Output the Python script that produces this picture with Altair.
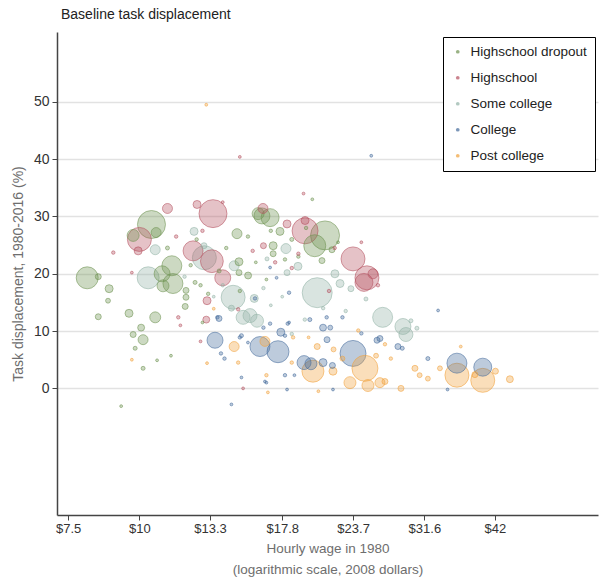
import altair as alt
import pandas as pd

# ---- data (hourly wage 1980 in 2008 $, task displacement %, employment share) ----
groups = ["Highschool dropout", "Highschool", "Some college", "College", "Post college"]
colors = ["#6d9150", "#b5505f", "#92b2a6", "#43699a", "#f0a13a"]

hsd_wage = [8.1, 10.5, 9.75, 10.7, 11.4, 11.45, 10.96, 11.0, 16.4, 16.95, 16.15, 21.16, 20.3,
            14.83, 17.16, 17.16, 17.64, 14.95, 14.95, 15.51, 20.9, 21.76,
            8.47, 8.85, 8.81, 8.47, 9.59, 10.66, 10.07, 9.75, 10.15, 9.83, 10.74, 11.36, 10.15, 9.29,
            12.07, 12.07, 12.03, 12.52, 11.2, 18.5, 19.0, 17.0, 15.5, 14.2, 13.8, 12.8, 12.3, 20.1, 16.0,
            12.6, 13.2, 18.0, 19.6, 22.3, 15.0, 16.7, 12.9]
hsd_task = [19.3, 28.6, 26.7, 27.2, 21.4, 18.3, 20.0, 17.9, 30.1, 29.8, 30.5, 26.7, 24.9,
            27.0, 24.9, 23.5, 27.4, 22.1, 20.2, 19.7, 22.3, 24.2,
            19.5, 17.4, 15.3, 12.5, 13.1, 12.4, 10.6, 9.4, 8.5, 7.0, 4.9, 5.7, 3.5, -3.1,
            17.1, 15.9, 14.3, 18.5, 24.5, 26.0, 23.0, 27.5, 26.5, 24.5, 20.5, 18.0, 21.5, 33.0, 22.0,
            26.0, 16.5, 22.5, 28.0, 25.5, 17.0, 19.0, 11.5]
hsd_share = [1.21, 1.96, 0.36, 0.25, 1.0, 1.0, 0.64, 0.36, 0.64, 0.81, 0.36, 2.1, 1.21,
             0.25, 0.16, 0.09, 0.16, 0.16, 0.09, 0.12, 0.09, 0.09,
             0.09, 0.16, 0.06, 0.09, 0.16, 0.3, 0.12, 0.09, 0.25, 0.04, 0.02, 0.02, 0.04, 0.02,
             0.09, 0.09, 0.09, 0.04, 0.04, 0.04, 0.03, 0.03, 0.03, 0.03, 0.04, 0.03, 0.03, 0.02, 0.02,
             0.03, 0.03, 0.03, 0.03, 0.02, 0.03, 0.02, 0.02]

hs_wage = [13.46, 10.0, 9.95, 12.42, 13.4, 14.0, 19.52, 19.52, 18.15, 16.47, 23.69, 25.06, 24.76,
           25.68, 11.2, 12.62, 9.0, 9.7, 13.14, 16.5, 15.0, 19.4, 14.0, 11.6, 12.9, 15.8, 17.3,
           18.5, 21.5, 22.0, 19.0, 24.5, 26.2, 13.1, 11.8, 15.2, 14.9, 11.7, 12.8]
hs_task = [30.5, 26.0, 24.0, 24.0, 22.2, 19.3, 27.5, 29.3, 28.7, 31.4, 22.6, 19.3, 18.5,
           20.0, 31.4, 32.1, 23.7, 20.2, 15.3, 24.9, 40.4, 34.0, 32.5, 26.5, 27.5, 24.0, 22.0,
           21.0, 17.0, 24.5, 23.5, 25.5, 18.0, 12.0, 11.0, 0.0, 13.8, 12.4, 8.2]
hs_share = [1.96, 1.44, 0.16, 1.0, 1.3, 0.64, 1.69, 0.16, 0.16, 0.25, 1.44, 1.44, 0.81,
            0.25, 0.25, 0.16, 0.03, 0.02, 0.16, 0.09, 0.02, 0.02, 0.02, 0.03, 0.03, 0.03, 0.03,
            0.03, 0.03, 0.03, 0.03, 0.02, 0.03, 0.12, 0.02, 0.02, 0.03, 0.03, 0.02]

sc_wage = [10.36, 13.0, 14.6, 15.2, 15.63, 16.08, 20.5, 26.7, 28.98, 29.33, 22.48, 23.49, 24.96,
           29.93, 30.66, 18.07, 18.97, 22.02, 18.15, 16.74, 14.66, 12.98, 10.66, 12.47, 15.9, 14.5,
           12.0, 16.5, 17.0, 19.5, 21.0, 23.0, 13.5, 14.0, 17.8, 18.5]
sc_task = [19.3, 22.8, 15.9, 12.4, 12.7, 11.8, 16.7, 12.4, 10.8, 9.4, 18.3, 17.4, 15.6,
           11.8, 10.5, 24.4, 21.3, 20.0, 20.2, 22.6, 21.4, 24.9, 24.2, 27.4, 15.7, 14.0,
           19.5, 17.5, 14.5, 12.0, 14.0, 13.5, 16.0, 18.0, 16.0, 9.5]
sc_share = [1.21, 1.44, 1.44, 0.49, 0.49, 0.42, 2.25, 1.0, 0.64, 0.49, 0.16, 0.09, 0.04,
            0.04, 0.04, 0.25, 0.16, 0.16, 0.09, 0.04, 0.25, 0.09, 0.25, 0.16, 0.16, 0.09,
            0.03, 0.03, 0.02, 0.03, 0.03, 0.03, 0.02, 0.03, 0.02, 0.03]

col_wage = [13.57, 16.27, 17.5, 17.7, 19.44, 19.99, 23.69, 36.04, 40.0, 20.99, 21.33, 20.99, 21.61,
            13.79, 21.8, 26.41, 26.1, 28.4, 28.9, 32.05, 33.4, 25.5,
            15.5, 15.1, 16.5, 16.95, 18.2, 19.9, 21.3, 22.7, 13.9, 14.1, 15.1, 16.6, 18.0, 18.7,
            18.15, 14.5, 21.85, 13.7, 15.95, 15.0, 16.95, 17.4, 18.3, 18.3, 18.0, 16.7, 24.5, 34.7]
col_task = [8.4, 7.3, 6.4, 9.8, 4.5, 4.3, 6.1, 4.4, 3.7, 4.5, 8.5, 10.6, 10.6,
            12.2, 4.0, 8.7, 8.4, 7.3, 7.0, 5.2, 13.6, 40.6,
            8.0, 9.2, 10.6, 11.3, 11.3, 12.0, 12.4, 12.4, 6.1, 5.2, 1.9, 1.2, 2.3, 2.3,
            -0.2, -2.8, -0.2, 12.4, 15.7, 8.9, 21.1, 19.3, 16.7, 11.5, 9.2, 1.0, 9.6, -0.2]
col_share = [0.64, 1.0, 1.21, 0.16, 0.49, 0.36, 1.69, 1.0, 0.81, 0.16, 0.09, 0.12, 0.06,
             0.09, 0.09, 0.09, 0.09, 0.09, 0.04, 0.04, 0.02, 0.02,
             0.02, 0.04, 0.03, 0.03, 0.03, 0.04, 0.03, 0.03, 0.03, 0.03, 0.02, 0.02, 0.03, 0.02,
             0.02, 0.02, 0.02, 0.03, 0.03, 0.03, 0.02, 0.02, 0.03, 0.02, 0.03, 0.02, 0.03, 0.02]

pc_wage = [20.15, 24.86, 23.4, 25.16, 26.41, 26.95, 28.75, 36.04, 40.0, 44.63, 16.6, 14.66, 21.85,
           30.42, 31.0, 32.05, 33.65, 38.75, 42.1, 36.6, 26.95, 27.6,
           13.14, 14.9, 18.5, 16.7, 16.8, 20.6, 18.6, 19.8, 20.5, 21.9, 9.7, 13.5, 24.2, 22.7, 26.0, 13.1]
pc_task = [3.0, 3.5, 1.0, 0.5, 1.0, 1.2, 0.0, 2.3, 1.4, 1.6, 8.2, 7.3, 3.0,
           3.5, 2.3, 1.7, 3.5, 2.4, 3.0, 7.3, 7.7, 5.2,
           4.4, 4.5, 4.5, 2.3, -0.7, -0.5, 8.9, 8.9, 7.3, 6.8, 5.0, 13.9, 10.1, 5.2, 5.7, 49.5]
pc_share = [1.21, 1.69, 0.36, 0.36, 0.25, 0.09, 0.09, 1.44, 1.44, 0.12, 0.25, 0.25, 0.16,
            0.09, 0.06, 0.06, 0.06, 0.09, 0.09, 0.02, 0.03, 0.03,
            0.02, 0.03, 0.03, 0.03, 0.02, 0.02, 0.03, 0.02, 0.09, 0.06, 0.02, 0.02, 0.03, 0.06, 0.06, 0.02]

x_ticks = [7.5, 10, 13.3, 17.8, 23.7, 31.6, 42]
y_ticks = [0, 10, 20, 30, 40, 50]

rows = []
for g, w, t, s in zip(groups,
                      [hsd_wage, hs_wage, sc_wage, col_wage, pc_wage],
                      [hsd_task, hs_task, sc_task, col_task, pc_task],
                      [hsd_share, hs_share, sc_share, col_share, pc_share]):
    for a, b, c in zip(w, t, s):
        rows.append({"group": g, "wage": a, "task": b, "share": c})
df = pd.DataFrame(rows)

FONT = "Liberation Sans"

color_scale = alt.Scale(domain=groups, range=colors)

chart = alt.Chart(df).mark_circle(
    fillOpacity=0.35, strokeOpacity=0.55, strokeWidth=1
).encode(
    x=alt.X("wage:Q",
            scale=alt.Scale(type="log", domain=[7.17, 63.7], nice=False, zero=False),
            axis=alt.Axis(values=x_ticks, labelExpr="'$' + datum.value", grid=False,
                          title=["Hourly wage in 1980", "(logarithmic scale, 2008 dollars)"],
                          titleColor="#6e6e6e", titleFontSize=13.5, titleFontWeight="normal",
                          titlePadding=6, titleLineHeight=21,
                          labelFontSize=13, labelColor="#333333", labelPadding=2,
                          tickSize=5, tickColor="#444444", domainColor="#444444", domainWidth=1.5)),
    y=alt.Y("task:Q",
            scale=alt.Scale(domain=[-22.1, 62.2], nice=False, zero=False),
            axis=alt.Axis(values=y_ticks, grid=True, gridColor="#e2e2e2", gridWidth=1.5,
                          title="Task displacement, 1980-2016 (%)",
                          titleColor="#6e6e6e", titleFontSize=14, titleFontWeight="normal",
                          titlePadding=8,
                          labelFontSize=14, labelColor="#333333", labelPadding=3,
                          tickSize=5, tickColor="#444444", domainColor="#444444", domainWidth=1.5)),
    fill=alt.Fill("group:N", scale=color_scale, sort=groups,
                  legend=alt.Legend(title=None, orient="none", legendX=386, legendY=5,
                                    strokeColor="#000000", fillColor="#ffffff", padding=8,
                                    symbolType="circle", symbolSize=14, symbolOpacity=0.7,
                                    symbolStrokeWidth=0,
                                    labelFontSize=13.5, labelColor="#222222", labelOffset=6,
                                    rowPadding=11, labelLimit=200)),
    stroke=alt.Stroke("group:N", scale=color_scale, legend=None),
    size=alt.Size("share:Q", scale=alt.Scale(domain=[0, 2.25], range=[0, 900]), legend=None),
    order=alt.Order("share:Q", sort="descending"),
).properties(
    width=541, height=483,
    title=alt.TitleParams("Baseline task displacement", anchor="start", frame="group",
                          fontSize=14, fontWeight="normal", color="#222222", dx=4, offset=10),
    autosize=alt.AutoSizeParams(type="none"),
    padding={"left": 57, "top": 32, "right": 1, "bottom": 66},
).configure(font=FONT).configure_view(stroke=None)

chart.save("out.html", embed_options={"renderer": "svg", "actions": False})
